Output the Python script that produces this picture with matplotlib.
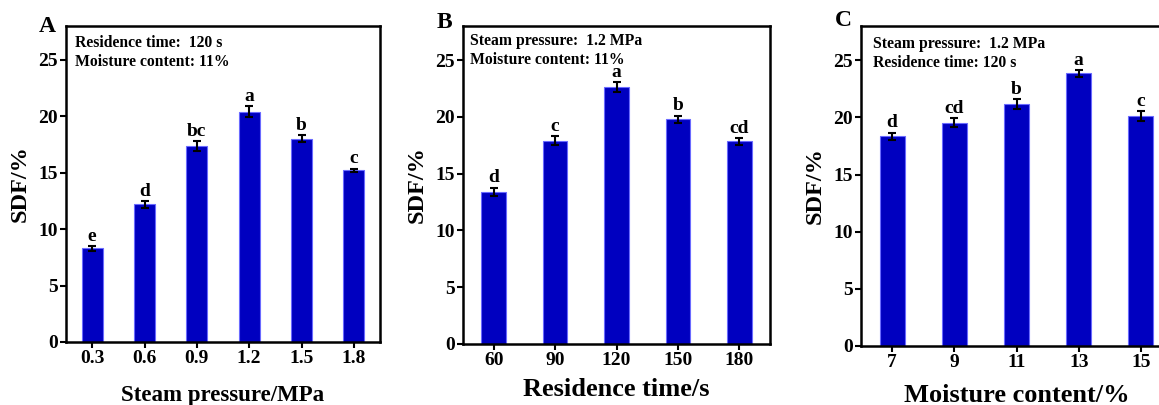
import numpy as np
import matplotlib.pyplot as plt

# data
pressure_labels = ['0.3', '0.6', '0.9', '1.2', '1.5', '1.8']
pressure_sdf = [8.3, 12.2, 17.35, 20.4, 18.0, 15.2]
pressure_err = [0.2, 0.3, 0.45, 0.5, 0.3, 0.15]
pressure_sig = ['e', 'd', 'bc', 'a', 'b', 'c']

time_labels = ['60', '90', '120', '150', '180']
time_sdf = [13.4, 17.9, 22.6, 19.8, 17.85]
time_err = [0.35, 0.4, 0.45, 0.3, 0.3]
time_sig = ['d', 'c', 'a', 'b', 'cd']

moisture_labels = ['7', '9', '11', '13', '15']
moisture_sdf = [18.35, 19.55, 21.15, 23.85, 20.1]
moisture_err = [0.3, 0.4, 0.45, 0.3, 0.45]
moisture_sig = ['d', 'cd', 'b', 'a', 'c']

plt.rcParams['font.family'] = ['Liberation Serif', 'DejaVu Serif']
plt.rcParams['font.weight'] = 'bold'

W, H = 1159, 405
fig = plt.figure(figsize=(W / 100, H / 100), dpi=100)

panels = [
    # letter, labels, values, errors, sig, xlabel, xlabel size, notes,
    # axes box in px (l, r, top, bottom), letter pos, notes pos, line gap, xlabel y
    ('A', pressure_labels, pressure_sdf, pressure_err, pressure_sig,
     'Steam pressure/MPa', 16.5,
     ['Residence time:  120 s', 'Moisture content: 11%'],
     (66, 380, 26, 342), (47, 27), (75, 43), 19, 396),
    ('B', time_labels, time_sdf, time_err, time_sig,
     'Residence time/s', 19,
     ['Steam pressure:  1.2 MPa', 'Moisture content: 11%'],
     (463, 770, 26, 344), (444, 22), (470, 41), 18.5, 390),
    ('C', moisture_labels, moisture_sdf, moisture_err, moisture_sig,
     'Moisture content/%', 19,
     ['Steam pressure:  1.2 MPa', 'Residence time: 120 s'],
     (861, 1172, 26, 346), (843, 21), (873, 44), 19, 395),
]

for (letter, labels, vals, errs, sig, xlab, xls, notes,
     (l, r, t, b), (lx, ly), (nx, ny), gap, xl_y) in panels:
    ax = fig.add_axes([l / W, (H - b) / H, (r - l) / W, (b - t) / H])
    x = np.arange(len(labels))
    ax.bar(x, vals, width=0.4, color='#0000c0', edgecolor='#6a6aff',
           linewidth=0.8, zorder=2)
    ax.errorbar(x, vals, yerr=errs, fmt='none', ecolor='black',
                elinewidth=1.5, capsize=3, capthick=1.5, zorder=3)
    for xi, v, e, s in zip(x, vals, errs, sig):
        ax.text(xi, v + e + 0.12, s, ha='center', va='bottom',
                fontsize=14, fontweight='bold')
    ax.set_xlim(-0.5, len(labels) - 0.5)
    ax.set_ylim(0, 28)
    ax.set_yticks([0, 5, 10, 15, 20, 25])
    ax.set_xticks(x)
    ax.set_xticklabels(labels)
    ax.tick_params(direction='out', length=4, width=1.5, labelsize=14,
                   pad=2)
    for lab in ax.get_xticklabels() + ax.get_yticklabels():
        lab.set_fontweight('bold')
    for sp in ax.spines.values():
        sp.set_linewidth(1.8)
    ax.set_ylabel('SDF/%', fontsize=17.5, fontweight='bold')
    ax.set_xlabel(xlab, fontsize=xls, fontweight='bold')
    ax.yaxis.set_label_coords(-46 / (r - l), 0.5)
    ax.yaxis.label.set_va('center')
    ax.xaxis.set_label_coords(0.5, (b - xl_y) / (b - t))
    ax.xaxis.label.set_va('center')
    fig.text(lx / W, 1 - ly / H, letter, fontsize=17, fontweight='bold',
             ha='center', va='center')
    for i, note in enumerate(notes):
        fig.text(nx / W, 1 - (ny + gap * i) / H, note, fontsize=11.3,
                 fontweight='bold', ha='left', va='center')

fig.savefig('out.png', dpi=100)
